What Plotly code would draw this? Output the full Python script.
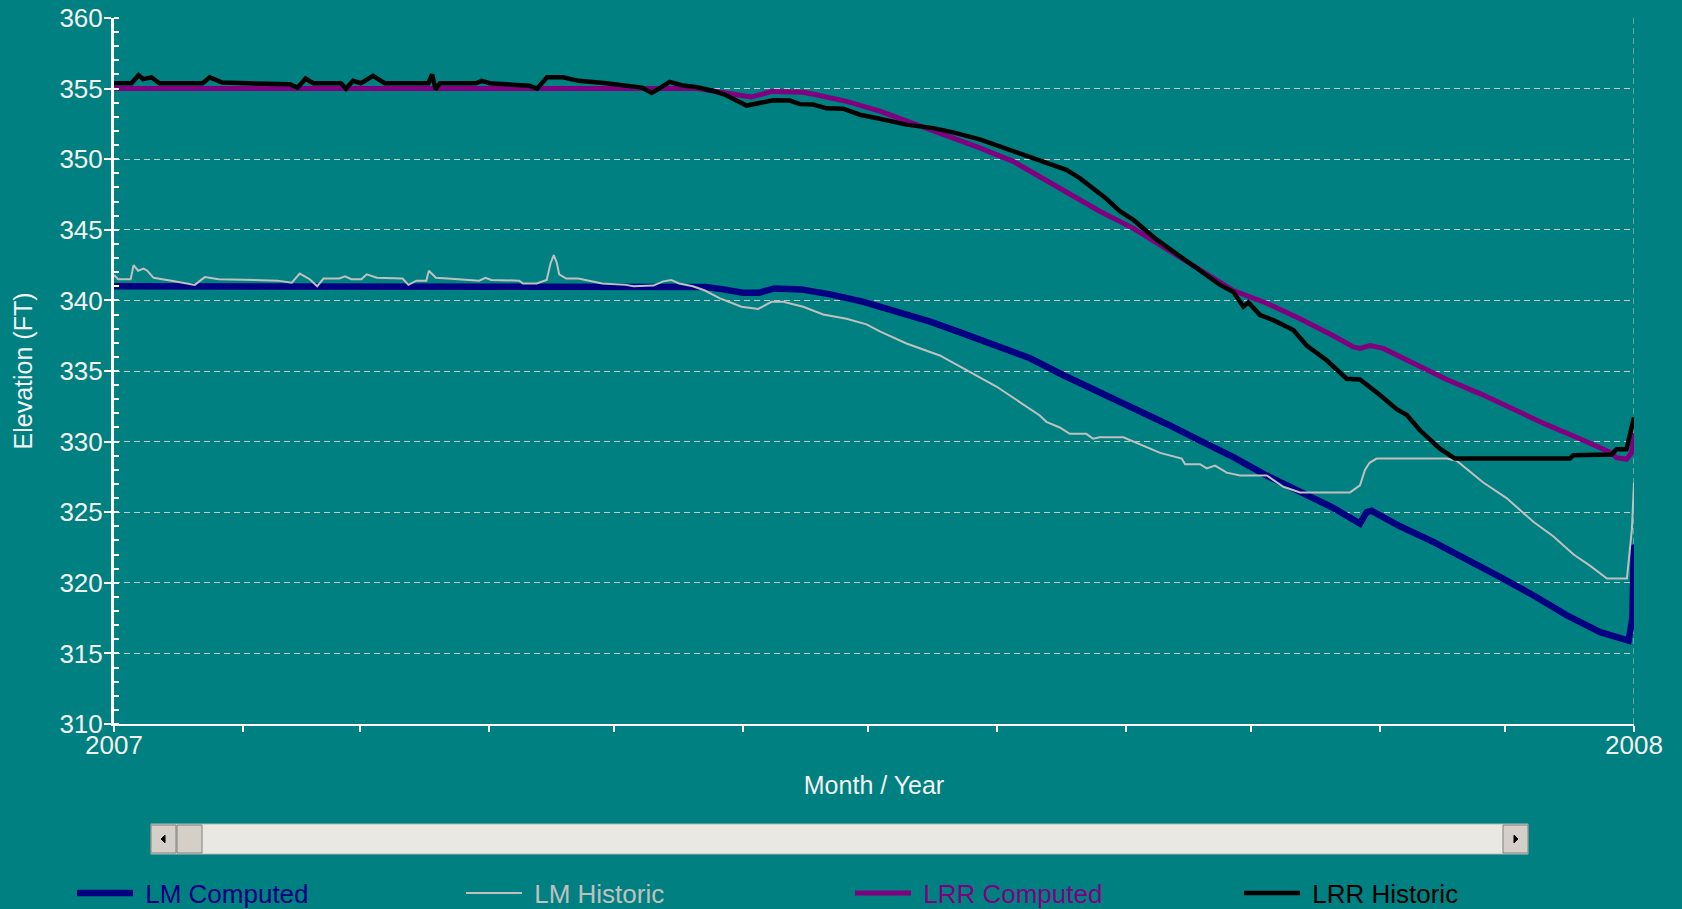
import pandas as pd
import plotly.graph_objects as go

START = pd.Timestamp("2007-01-01")
END = pd.Timestamp("2008-01-01")

# ---- data (day offset from 2007-01-01, elevation in ft) ----
lm_comp_days = [0, 138, 142, 146, 151, 155, 158.5, 165, 172, 180, 188, 196, 204, 212, 220, 228, 236,
                244.8, 252.8, 260.8, 268.8, 276.8, 284.8, 292.8, 299.2, 300.8, 302, 308.8, 316.8,
                324.8, 332.9, 340.9, 348.9, 356.9, 361.7, 363.7, 364.6, 365]
lm_comp_vals = [341.0, 341.0, 340.95, 340.8, 340.55, 340.55, 340.85, 340.78, 340.43, 339.9, 339.2, 338.5,
                337.65, 336.8, 335.9, 334.7, 333.6, 332.4, 331.25, 330.07, 328.9, 327.6, 326.4, 325.3,
                324.2, 325.0, 325.1, 324.0, 322.9, 321.7, 320.4, 319.1, 317.7, 316.5, 316.0, 315.9,
                317.5, 322.7]

lm_hist_days = [0, 1, 4, 4.7, 5.8, 7.1, 8, 9.5, 14.5, 19.4, 21.8, 25.1, 39.3, 42.7, 44.6, 47, 48.8,
                50.3, 54.1, 55.5, 57, 59.4, 60.7, 63.1, 69.3, 70.7, 72.6, 75, 75.6, 77.3, 80.1, 87.7,
                89.2, 90.6, 97.3, 98.2, 101.5, 103.9, 104.8, 105.6, 106.3, 106.9, 108.6, 111.5, 117.2,
                122.9, 124.8, 129.5, 131.9, 133.8, 135.7, 139, 141.9, 145.5, 150.7, 154.7, 157.9,
                160.7, 165.5, 170.3, 175.9, 180.7, 183.9, 190.3, 198.3, 203.9, 211.9, 217.5, 222.3,
                223.9, 227.1, 229.5, 233.5, 235.1, 236.7, 242.4, 245.6, 251.2, 256.4, 257.2, 260.8,
                262.4, 264.4, 267.2, 270.4, 276.8, 280.8, 284.8, 296.8, 299.2, 300.4, 301.5, 303.2,
                320.0, 322.4, 328.8, 334.4, 340.9, 345.6, 350.5, 354.5, 358.5, 363.3, 364.5, 365]
lm_hist_vals = [341.8, 341.5, 341.5, 342.5, 342.1, 342.25, 342.1, 341.6, 341.35, 341.1, 341.65, 341.5,
                341.4, 341.25, 341.9, 341.5, 341.0, 341.55, 341.55, 341.7, 341.5, 341.5, 341.85, 341.6,
                341.55, 341.1, 341.4, 341.4, 342.1, 341.6, 341.55, 341.4, 341.6, 341.45, 341.4, 341.2,
                341.2, 341.45, 342.6, 343.2, 342.7, 341.85, 341.55, 341.55, 341.2, 341.1, 341.0,
                341.05, 341.35, 341.45, 341.2, 341.0, 340.7, 340.14, 339.55, 339.4, 339.9, 339.9,
                339.55, 339.0, 338.7, 338.3, 337.8, 336.95, 336.1, 335.2, 333.9, 332.8, 331.85, 331.4,
                331.0, 330.55, 330.55, 330.2, 330.3, 330.3, 329.9, 329.2, 328.8, 328.4, 328.4, 328.1,
                328.3, 327.8, 327.6, 327.6, 326.8, 326.4, 326.4, 326.9, 328.0, 328.5, 328.8, 328.8,
                328.65, 327.1, 326.0, 324.3, 323.3, 322.0, 321.2, 320.3, 320.3, 323.8, 327.1]

lrr_comp_days = [0, 140, 146.5, 150, 153, 158, 165.5, 168, 175.9, 183.9, 191.9, 199.9, 207.9, 215.9,
                 223.9, 231.9, 236.8, 244.8, 252.8, 260.8, 268.8, 276.8, 284.8, 292.8, 297.6, 299.2,
                 301.6, 304.8, 312, 320, 328, 336, 344, 352, 359.6, 360.8, 363.2, 364.4, 365]
lrr_comp_vals = [355.0, 355.0, 354.7, 354.55, 354.4, 354.8, 354.74, 354.6, 354.1, 353.4, 352.56, 351.7,
                 350.8, 349.85, 348.5, 347.1, 346.3, 345.1, 343.6, 342.16, 340.7, 339.8, 338.7, 337.5,
                 336.7, 336.6, 336.8, 336.6, 335.6, 334.4, 333.4, 332.3, 331.2, 330.2, 329.2, 328.86,
                 328.75, 329.2, 330.6]

lrr_hist_days = [0, 4.2, 5.9, 7.0, 9.0, 10.9, 21.3, 23.0, 26.0, 42.2, 44.1, 46.0, 47.9, 54.5, 55.7,
                 57.4, 59.3, 62.2, 65.0, 75.5, 76.4, 77.2, 78.3, 86.9, 88.3, 90.2, 99.7, 101.6, 104.0,
                 107.8, 111.6, 118.2, 126.8, 129.1, 130.6, 133.4, 136.3, 140.1, 143.9, 146.5, 151.9,
                 155.0, 158.3, 162.3, 164.7, 167.9, 171.1, 175.1, 179.1, 183.9, 190.3, 196.7, 201.5,
                 207.9, 212.7, 217.5, 222.3, 228.7, 231.9, 235.1, 238.3, 241.6, 244.8, 250.4, 254.4,
                 259.2, 265.6, 268.8, 271.2, 272.4, 275.2, 278.4, 283.2, 286.4, 291.2, 296.0, 299.2,
                 304.0, 308.0, 310.4, 313.6, 318.4, 322.0, 349.6, 350.4, 359.6, 360.8, 363.2, 365.0]
lrr_hist_vals = [355.38, 355.38, 355.95, 355.67, 355.8, 355.38, 355.38, 355.8, 355.43, 355.3, 355.07,
                 355.7, 355.38, 355.38, 355.0, 355.55, 355.38, 355.9, 355.38, 355.38, 356.0, 354.95,
                 355.38, 355.38, 355.55, 355.38, 355.2, 355.0, 355.8, 355.8, 355.55, 355.38, 355.07,
                 354.7, 354.95, 355.48, 355.24, 355.1, 354.83, 354.6, 353.8, 354.0, 354.17, 354.15,
                 353.9, 353.87, 353.6, 353.58, 353.15, 352.87, 352.45, 352.2, 351.9, 351.4, 350.9,
                 350.4, 349.9, 349.25, 348.66, 347.95, 347.2, 346.3, 345.7, 344.3, 343.46, 342.5,
                 341.1, 340.6, 339.55, 339.86, 338.96, 338.6, 337.9, 336.8, 335.76, 334.45, 334.4,
                 333.3, 332.3, 331.9, 330.8, 329.5, 328.8, 328.8, 329.03, 329.08, 329.45, 329.45, 331.7]

series_names = ["LM Computed", "LM Historic", "LRR Computed", "LRR Historic"]
series_colors = ["#000080", "#c0c0c0", "#800080", "#000000"]
series_widths = [6.5, 2, 5, 4.5]
series_days = [lm_comp_days, lm_hist_days, lrr_comp_days, lrr_hist_days]
series_vals = [lm_comp_vals, lm_hist_vals, lrr_comp_vals, lrr_hist_vals]

month_ticks = pd.date_range(START, END, freq="MS")
month_text = ["2007"] + [""] * (len(month_ticks) - 2) + ["2008"]
y_ticks = list(range(310, 361, 5))

BG = "#008080"
FONT = "Liberation Sans, Arial, sans-serif"
TXT = "#f2f2f2"
NB = "\u00a0"

fig = go.Figure()
for name, col, w, d, v in zip(series_names, series_colors, series_widths, series_days, series_vals):
    dates = START + pd.to_timedelta(d, unit="D")
    fig.add_trace(go.Scatter(
        x=dates, y=v, mode="lines",
        name=f"<span style='color:{col}'>{NB}{name}</span>",
        line=dict(color=col, width=w),
        hoverinfo="x+y",
    ))

W, H = 1682, 909
L, R, T, B = 114, 48, 18, 185
PW, PH = W - L - R, H - T - B


def px(xpix):
    return (xpix - L) / PW


def py(ypix):
    return (H - B - ypix) / PH


shapes = []
# right-edge dashed vertical gridline
shapes.append(dict(type="line", xref="x", yref="paper", x0=END, x1=END, y0=0, y1=1,
                   line=dict(color="#c8c8c8", width=1, dash="6px,4px"), layer="below"))
# scrollbar (decoration)
shapes.append(dict(type="rect", xref="paper", yref="paper", x0=px(151), x1=px(1528), y0=py(854), y1=py(824),
                   fillcolor="#e9e8e3", line=dict(color="#b8b8b8", width=1)))
for a, b in [(151, 176), (177, 202), (1503, 1528)]:
    shapes.append(dict(type="rect", xref="paper", yref="paper", x0=px(a), x1=px(b), y0=py(853), y1=py(825),
                       fillcolor="#d4d0c8", line=dict(color="#808080", width=1)))
# arrows
shapes.append(dict(type="path", xref="paper", yref="paper",
                   path=f"M {px(161)} {py(839)} L {px(165)} {py(835)} L {px(165)} {py(843)} Z",
                   fillcolor="#000000", line=dict(color="#000000", width=1)))
shapes.append(dict(type="path", xref="paper", yref="paper",
                   path=f"M {px(1518)} {py(839)} L {px(1514)} {py(835)} L {px(1514)} {py(843)} Z",
                   fillcolor="#000000", line=dict(color="#000000", width=1)))

fig.update_layout(
    width=W, height=H,
    margin=dict(l=L, r=R, t=T, b=B, autoexpand=False),
    paper_bgcolor=BG, plot_bgcolor=BG,
    font=dict(family=FONT, size=25, color=TXT),
    showlegend=True,
    legend=dict(orientation="h", x=px(72), xanchor="left", y=py(893), yanchor="middle",
                bgcolor="rgba(0,0,0,0)", font=dict(family=FONT, size=26),
                itemwidth=56, entrywidth=318, entrywidthmode="pixels", traceorder="normal"),
    shapes=shapes,
    xaxis=dict(
        range=[START, END], tickmode="array", tickvals=month_ticks, ticktext=month_text,
        ticks="outside", ticklen=6, tickwidth=2, tickcolor="white",
        ticklabelstandoff=-9,
        showline=True, linecolor="white", linewidth=2,
        showgrid=False, zeroline=False,
        tickfont=dict(family=FONT, size=26, color=TXT),
        title=dict(text="Month / Year", font=dict(family=FONT, size=25, color=TXT), standoff=17),
        automargin=False,
    ),
    yaxis=dict(
        range=[310, 360], tickmode="array", tickvals=y_ticks,
        ticks="outside", ticklen=7, tickwidth=2, tickcolor="white",
        ticklabelstandoff=-4,
        minor=dict(dtick=1, ticks="inside", ticklen=5, tickwidth=2, tickcolor="white", showgrid=False),
        showline=True, linecolor="white", linewidth=3,
        showgrid=True, gridcolor="#c8c8c8", gridwidth=1, griddash="6px,4px",
        zeroline=False,
        tickfont=dict(family=FONT, size=26, color=TXT),
        title=dict(text="Elevation (FT)", font=dict(family=FONT, size=25, color=TXT), standoff=20),
        automargin=False,
    ),
)

fig.write_html("out.html", config={"displayModeBar": False},
               post_script="document.body.style.margin='0';document.body.style.overflow='hidden';")
